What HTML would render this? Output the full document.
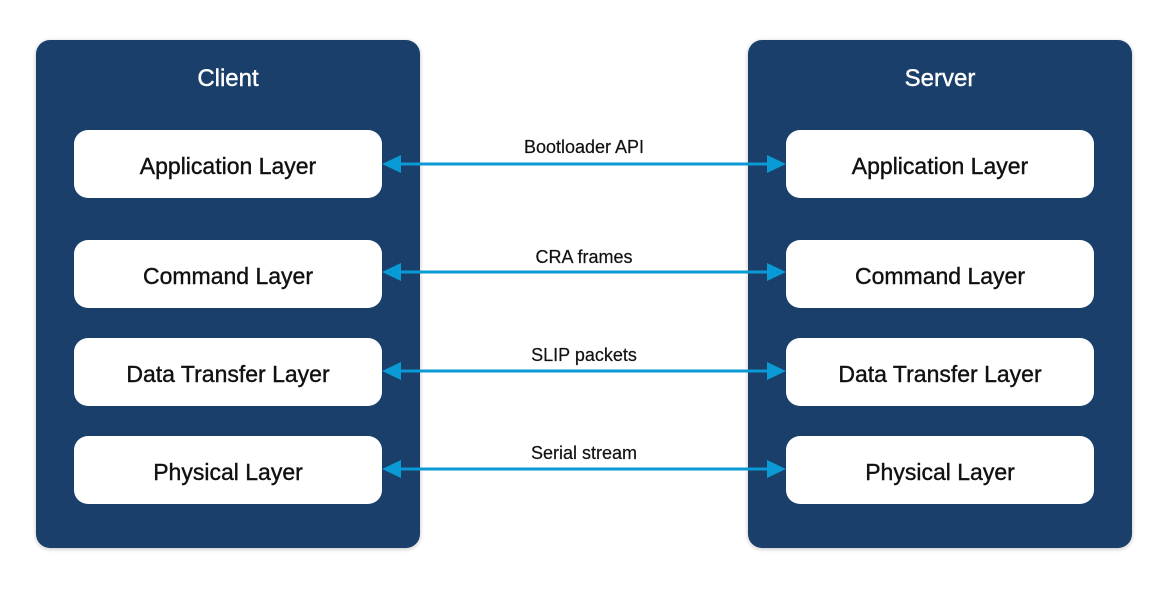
<!DOCTYPE html>
<html><head><style>
body{margin:0;width:1168px;height:589px;background:#fff;font-family:"Liberation Sans",sans-serif;position:relative;overflow:hidden}
.c{position:absolute;top:40px;width:384px;height:508px;background:#1b3f6b;border-radius:14px;box-shadow:0 1px 4px rgba(0,0,0,.25)}
.t{position:absolute;width:384px;text-align:center;color:#fff;font-size:24px;-webkit-text-stroke:0.4px #fff}
.b{position:absolute;width:308px;height:68px;background:#fff;border-radius:14px;text-align:center;line-height:72px;font-size:23px;color:#111;-webkit-text-stroke:0.4px #111}
.l{position:absolute;left:420px;width:328px;text-align:center;font-size:18px;color:#111;-webkit-text-stroke:0.2px #111}
</style></head><body>
<div class="c" style="left:36px"></div><div class="c" style="left:748px"></div>
<div class="t" style="left:36px;top:65px">Client</div><div class="t" style="left:748px;top:65px">Server</div>
<div class="b" style="left:74px;top:130px">Application Layer</div>
<div class="b" style="left:74px;top:240px">Command Layer</div>
<div class="b" style="left:74px;top:338px">Data Transfer Layer</div>
<div class="b" style="left:74px;top:436px">Physical Layer</div>
<div class="b" style="left:786px;top:130px">Application Layer</div>
<div class="b" style="left:786px;top:240px">Command Layer</div>
<div class="b" style="left:786px;top:338px">Data Transfer Layer</div>
<div class="b" style="left:786px;top:436px">Physical Layer</div>
<div class="l" style="top:137px">Bootloader API</div>
<div class="l" style="top:247px">CRA frames</div>
<div class="l" style="top:345px">SLIP packets</div>
<div class="l" style="top:443px">Serial stream</div>
<svg width="1168" height="589" style="position:absolute;left:0;top:0">
<g fill="#0a9ad6" stroke="#0a9ad6">
<line x1="398" y1="164" x2="770" y2="164" stroke-width="3"/><polygon stroke="none" points="382,164 401,155 401,173"/><polygon stroke="none" points="786,164 767,155 767,173"/>
<line x1="398" y1="272" x2="770" y2="272" stroke-width="3"/><polygon stroke="none" points="382,272 401,263 401,281"/><polygon stroke="none" points="786,272 767,263 767,281"/>
<line x1="398" y1="371" x2="770" y2="371" stroke-width="3"/><polygon stroke="none" points="382,371 401,362 401,380"/><polygon stroke="none" points="786,371 767,362 767,380"/>
<line x1="398" y1="469" x2="770" y2="469" stroke-width="3"/><polygon stroke="none" points="382,469 401,460 401,478"/><polygon stroke="none" points="786,469 767,460 767,478"/>
</g></svg>
</body></html>
